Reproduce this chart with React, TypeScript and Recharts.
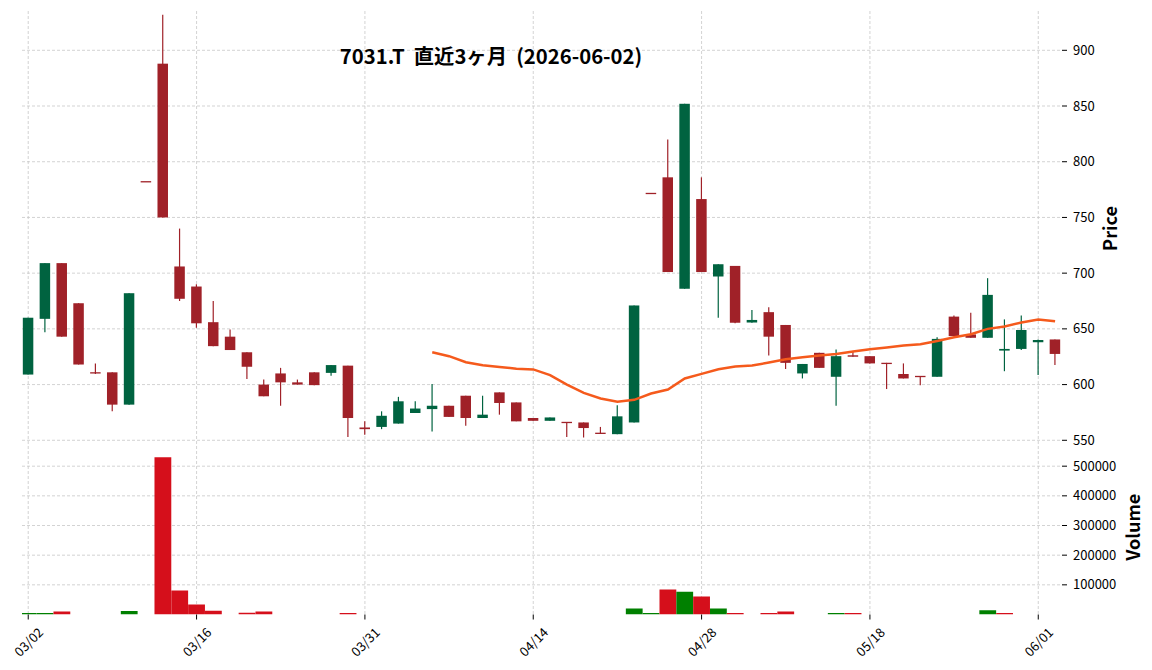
import React from 'react';
import { ComposedChart, Bar, Line, XAxis, YAxis, CartesianGrid, Cell } from 'recharts';

const dates = [
  '03/02','03/03','03/04','03/05','03/06','03/09','03/10','03/11','03/12','03/13',
  '03/16','03/17','03/18','03/19','03/23','03/24','03/25','03/26','03/27','03/30',
  '03/31','04/01','04/02','04/03','04/06','04/07','04/08','04/09','04/10','04/13',
  '04/14','04/15','04/16','04/17','04/20','04/21','04/22','04/23','04/24','04/27',
  '04/28','04/30','05/01','05/07','05/08','05/11','05/12','05/13','05/14','05/15',
  '05/18','05/19','05/20','05/21','05/22','05/25','05/26','05/27','05/28','05/29',
  '06/01','06/02',
];

const opens = [
  609, 659, 709, 673, 611, 611, 582, 782, 888, 706,
  688, 656, 643, 629, 600, 610, 602, 611, 610.5, 617,
  561.5, 562, 565, 574.5, 578, 581, 590, 570, 593, 584,
  570, 567.5, 566.5, 566, 556.5, 555.5, 566, 771.5, 786, 686,
  766.5, 697, 706.5, 655.7, 665, 653.5, 610, 628.5, 607, 626.3,
  625.5, 619.5, 609.5, 607.5, 607, 661, 645, 642, 630.5, 632,
  638, 640.5,
];
const highs = [
  660, 709, 709, 673, 619, 611, 682, 782, 932, 740,
  690, 675, 649.5, 629, 604.5, 615, 604.5, 611, 617.5, 617,
  567, 576, 589, 585, 600.5, 581, 590, 590, 593, 584,
  570, 570.5, 566.5, 566, 562, 581.5, 671, 771.5, 820, 852,
  786, 708, 706.5, 667, 669.5, 653.5, 618.5, 628.5, 631.5, 630,
  625.5, 619.5, 619, 607.5, 642.5, 662, 664.5, 695.5, 658.5, 662,
  640.5, 640.5,
];
const lows = [
  609, 647, 643, 618, 609.5, 576, 582, 782, 750, 675,
  651, 634.5, 631, 605, 589.5, 581, 600, 599.5, 608, 553,
  555, 560, 565, 574.5, 558, 571, 563, 570, 573, 567,
  567.5, 567.5, 553, 552.5, 556, 555.5, 566, 771.5, 701, 686,
  701, 660, 655, 655.5, 626, 614, 605.5, 615, 581, 625,
  619, 596, 605.5, 599.5, 607, 643.5, 642, 642, 612, 631,
  608.5, 617.5,
];
const closes = [
  660, 709, 643, 618, 610, 582, 682, 782, 750, 677,
  655, 634.5, 631, 616, 589.5, 602, 600, 599.5, 617.5, 570,
  560, 572, 585, 578.5, 581, 571, 570, 573, 583.5, 567,
  567.5, 570.5, 565.5, 561, 556, 571.5, 671, 771.5, 701, 852,
  701, 708, 655.5, 658, 643, 619.5, 618.5, 615, 625.5, 625,
  619, 618.5, 605.5, 607, 641, 643.5, 642, 680.5, 632, 649,
  640, 627.5,
];
const volumes = [
  5000, 5000, 10000, 0, 0, 0, 12000, 0, 530000, 81000,
  34000, 13000, 0, 6000, 10000, 0, 0, 0, 0, 5000,
  0, 0, 0, 0, 0, 0, 0, 0, 0, 0,
  0, 0, 0, 0, 0, 0, 20000, 5000, 84000, 77000,
  61000, 20000, 5000, 0, 5000, 10000, 0, 0, 5000, 5000,
  0, 0, 0, 0, 0, 0, 0, 14000, 5000, 0,
  0, 0,
];
const ma25 = [
  null, null, null, null, null, null, null, null, null, null,
  null, null, null, null, null, null, null, null, null, null,
  null, null, null, null, 629, 625.5, 620, 617.3, 615.8, 614.2,
  613.6, 608.5, 600, 592.5, 587.5, 584.7, 586.3, 592, 595.6, 605.5,
  609.6, 613.8, 616.3, 617.1, 619.8, 622.8, 624.6, 626, 627.5, 629.6,
  631.7, 633.2, 635, 636.2, 639.2, 642.5, 645.2, 650, 652.1, 655.7,
  658.5, 656.8,
];

const priceTicks = [550, 600, 650, 700, 750, 800, 850, 900];
const volumeTicks = [100000, 200000, 300000, 400000, 500000];
const xTickIdx = [0, 10, 20, 30, 40, 50, 60];

const UP = '#006340';
const DOWN = '#a02128';
const VUP = '#008000';
const VDOWN = '#d50f1b';
const MA_COLOR = '#f55a1c';
const GRID = '#c8c8c8';
const FONT = '"Noto Sans CJK JP", "Noto Sans", sans-serif';

const data = dates.map((d, i) => ({
  i,
  date: d,
  o: opens[i],
  h: highs[i],
  l: lows[i],
  c: closes[i],
  v: volumes[i],
  ma: ma25[i],
  range: [lows[i], highs[i]],
  vUp: i === 0 ? true : closes[i] > closes[i - 1],
}));

const Candle = (props: any) => {
  const { x, y, width, height, payload } = props;
  if (!payload) return null;
  const { o, h, l, c } = payload;
  const color = c > o ? UP : DOWN;
  const top0 = Math.min(y, y + height);
  const hh = Math.abs(height);
  const cx = x + width / 2;
  const span = h - l;
  const ratio = span > 0 ? hh / span : 0;
  const yOf = (v: number) => top0 + (h - v) * ratio;
  let top = yOf(Math.max(o, c));
  let bot = yOf(Math.min(o, c));
  if (bot - top < 1.3) {
    const m = (top + bot) / 2;
    top = m - 0.65;
    bot = m + 0.65;
  }
  return (
    <g>
      {hh > 0 && (
        <line x1={cx} x2={cx} y1={top0} y2={top0 + hh} stroke={color} strokeWidth={1.2} />
      )}
      <rect x={x} y={top} width={width} height={bot - top} fill={color} />
    </g>
  );
};

const DateTick = (props: any) => {
  const { x, y, payload } = props;
  const label = dates[payload.value] ?? '';
  const cy = y + 20;
  return (
    <text
      x={x}
      y={cy}
      transform={`rotate(-45 ${x} ${cy})`}
      textAnchor="middle"
      dominantBaseline="central"
      fontSize={13}
      fontFamily={FONT}
      fill="#000"
    >
      {label}
    </text>
  );
};

const tickStyle = { fontSize: 13, fontFamily: FONT, fill: '#000' };
const axisLabelStyle = { fontSize: 18, fontFamily: FONT, fill: '#000', fontWeight: 600 };

export default function App() {
  return (
    <div style={{ position: 'absolute', left: 0, top: 0, width: 1152, height: 670, background: '#fff' }}>
      <div style={{ position: 'absolute', left: 0, top: 446 }}>
        <ComposedChart width={1152} height={224} data={data} margin={{ top: 0, right: 0, bottom: 0, left: 22 }}>
          <CartesianGrid
            stroke={GRID}
            strokeDasharray="3 2"
            strokeWidth={0.8}
            horizontalValues={volumeTicks}
            verticalValues={xTickIdx}
          />
          <XAxis
            dataKey="i"
            type="number"
            domain={[-0.37, 61.41]}
            allowDataOverflow
            ticks={xTickIdx}
            interval={0}
            height={55.5}
            axisLine={false}
            tickLine={{ stroke: '#000' }}
            tickSize={5}
            tickMargin={2}
            tick={<DateTick />}
          />
          <YAxis
            orientation="right"
            width={90}
            domain={[0, 568000]}
            allowDataOverflow
            ticks={volumeTicks}
            interval={0}
            axisLine={false}
            tickLine={{ stroke: '#000' }}
            tickSize={5}
            tickMargin={6}
            tick={tickStyle}
            label={{ value: 'Volume', angle: -90, position: 'center', dx: 27, dy: -3, style: axisLabelStyle }}
          />
          <Bar dataKey="v" barSize={16.8} isAnimationActive={false}>
            {data.map((d, idx) => (
              <Cell key={idx} fill={d.vUp ? VUP : VDOWN} />
            ))}
          </Bar>
        </ComposedChart>
      </div>
      <div style={{ position: 'absolute', left: 0, top: 0 }}>
        <ComposedChart width={1152} height={458} data={data} margin={{ top: 11, right: 0, bottom: 12, left: 22 }}>
          <CartesianGrid
            stroke={GRID}
            strokeDasharray="3 2"
            strokeWidth={0.8}
            horizontalValues={priceTicks}
            verticalValues={xTickIdx}
          />
          <XAxis
            dataKey="i"
            type="number"
            domain={[-0.37, 61.41]}
            allowDataOverflow
            ticks={xTickIdx}
            hide
          />
          <YAxis
            orientation="right"
            width={90}
            domain={[544.88, 935.27]}
            allowDataOverflow
            ticks={priceTicks}
            interval={0}
            axisLine={false}
            tickLine={{ stroke: '#000' }}
            tickSize={5}
            tickMargin={6}
            tick={tickStyle}
            label={{ value: 'Price', angle: -90, position: 'center', dx: 4, style: axisLabelStyle }}
          />
          <Bar dataKey="range" barSize={10.5} shape={<Candle />} isAnimationActive={false} />
          <Line dataKey="ma" stroke={MA_COLOR} strokeWidth={2.5} dot={false} isAnimationActive={false} connectNulls={false} />
        </ComposedChart>
      </div>
      <svg width={1152} height={100} style={{ position: 'absolute', left: 0, top: 0, pointerEvents: 'none' }}>
        <text
          x={491}
          y={63.5}
          textAnchor="middle"
          fontSize={20.3}
          fontWeight="bold"
          fontFamily={FONT}
          fill="#000"
          style={{ whiteSpace: 'pre' }}
        >
          {'7031.T  直近3ヶ月  (2026-06-02)'}
        </text>
      </svg>
    </div>
  );
}
